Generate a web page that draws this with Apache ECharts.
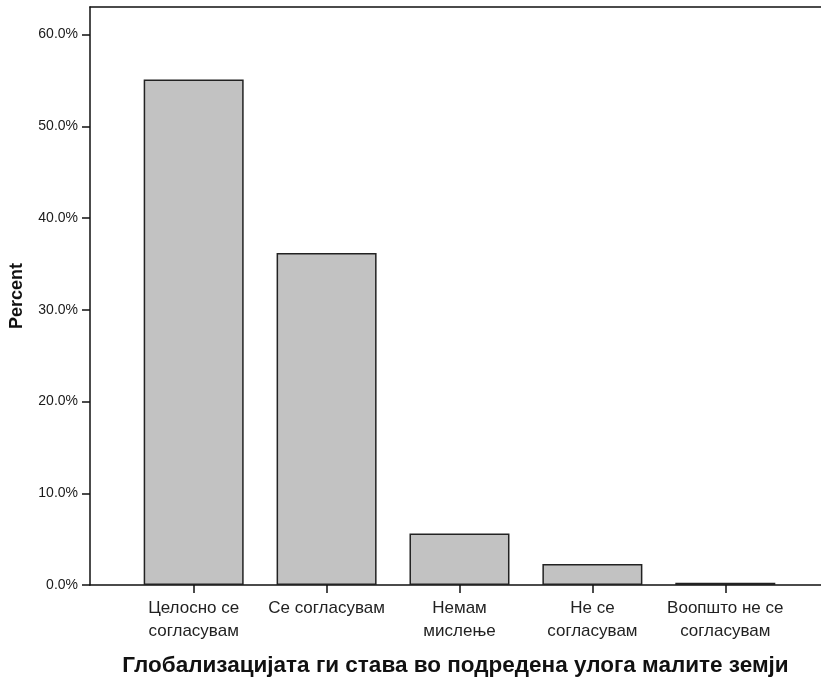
<!DOCTYPE html>
<html>
<head>
<meta charset="utf-8">
<script src="https://cdn.jsdelivr.net/npm/echarts@6/dist/echarts.min.js"></script>
<style>html,body{margin:0;padding:0;background:#fff;}#c{width:821px;height:682px;}</style>
</head>
<body>
<div id="c"></div>
<script>
const categories = ["Целосно се\nсогласувам", "Се согласувам", "Немам\nмислење", "Не се\nсогласувам", "Воопшто не се\nсогласувам"];
const percents = [55.1, 36.2, 5.6, 2.3, 0.25];
const yTicks = [0, 10, 20, 30, 40, 50, 60];
const xTitle = "Глобализацијата ги става во подредена улога малите земји";
const yTitle = "Percent";

const positions = categories.map((c, i) => i);
const chart = echarts.init(document.getElementById('c'), null, {renderer: 'canvas'});
chart.setOption({
  backgroundColor: '#fff',
  animation: false,
  grid: {left: 89, right: 0, top: 7, bottom: 97, show: false},
  xAxis: [{
    type: 'value', min: -0.78, max: 4.72,
    name: xTitle, nameLocation: 'middle', nameGap: 69,
    nameTextStyle: {fontFamily: 'Liberation Sans', fontWeight: 'bold', fontSize: 22.5, color: '#111'},
    axisLine: {show: true, onZero: false, lineStyle: {color: '#111', width: 1.5}},
    axisTick: {show: true, length: 8, customValues: positions, lineStyle: {color: '#111', width: 1.5}},
    axisLabel: {customValues: positions, margin: 12, lineHeight: 23, fontFamily: 'Liberation Sans', fontSize: 17, color: '#222',
      formatter: v => categories[Math.round(v)] || ''},
    splitLine: {show: false}
  }, {
    type: 'value', position: 'top', min: -0.78, max: 4.72,
    axisLine: {show: true, onZero: false, lineStyle: {color: '#111', width: 1.5}},
    axisTick: {show: false}, axisLabel: {show: false}, splitLine: {show: false}
  }],
  yAxis: {
    type: 'value', min: 0, max: 63,
    name: yTitle, nameLocation: 'middle', nameGap: 64, nameRotate: 90,
    nameTextStyle: {fontFamily: 'Liberation Sans', fontWeight: 'bold', fontSize: 18, color: '#111'},
    axisLine: {show: true, onZero: false, lineStyle: {color: '#111', width: 1.5}},
    axisTick: {show: true, length: 8, customValues: yTicks, lineStyle: {color: '#111', width: 1.5}},
    axisLabel: {customValues: yTicks, margin: 12, fontFamily: 'Liberation Sans', fontSize: 14, color: '#1a1a1a',
      formatter: v => v.toFixed(1) + '%'},
    splitLine: {show: false}
  },
  series: [{
    type: 'bar',
    xAxisIndex: 0,
    barWidth: 100,
    data: percents.map((p, i) => [positions[i], p]),
    itemStyle: {color: '#c2c2c2', borderColor: '#222', borderWidth: 1.5}
  }]
});
</script>
</body>
</html>
